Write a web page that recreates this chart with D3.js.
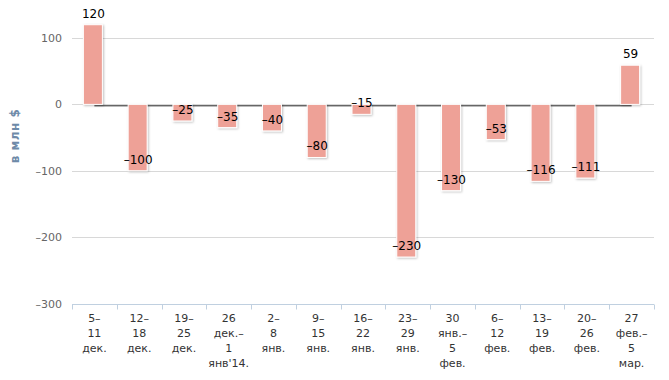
<!DOCTYPE html>
<html><head><meta charset="utf-8">
<script src="https://cdn.jsdelivr.net/npm/d3@7"></script>
<style>body{margin:0;background:#fff}svg{display:block}</style>
</head><body>
<svg id="c" width="669" height="380"></svg>
<script>
const categories = [
  ["5–","11","дек."],
  ["12–","18","дек."],
  ["19–","25","дек."],
  ["26","дек.–","1","янв'14."],
  ["2–","8","янв."],
  ["9–","15","янв."],
  ["16–","22","янв."],
  ["23–","29","янв."],
  ["30","янв.–","5","фев."],
  ["6–","12","фев."],
  ["13–","19","фев."],
  ["20–","26","фев."],
  ["27","фев.–","5","мар."]
];
const values = [120, -100, -25, -35, -40, -80, -15, -230, -130, -53, -116, -111, 59];
const yTicks = [-300, -200, -100, 0, 100];
const yTitle = "в млн $";

(function(){
const svg = d3.select("#c");
const pL = 72, pR = 654, pT = 38, pB = 303.5;
const x = d3.scaleBand().domain(d3.range(categories.length)).range([pL, pR]);
const y = d3.scaleLinear().domain([-300, 100]).range([pB, pT]);
const fmt = d => String(d).replace("-","–");

const defs = svg.append("defs");
const f = defs.append("filter").attr("id","sh").attr("x","-30%").attr("y","-30%").attr("width","160%").attr("height","160%");
f.append("feDropShadow").attr("dx",1).attr("dy",1).attr("stdDeviation",1).attr("flood-color","#000").attr("flood-opacity",0.25);

// gridlines
svg.append("g").selectAll("line").data(yTicks.filter(d=>d!==-300)).join("line")
  .attr("x1", pL).attr("x2", pR).attr("y1", d=>Math.round(y(d))+0.5).attr("y2", d=>Math.round(y(d))+0.5)
  .attr("stroke","#d8d8d8").attr("stroke-width",1);

// y tick labels
svg.append("g").selectAll("text").data(yTicks).join("text")
  .attr("x", 62).attr("y", d=>y(d)+4).attr("text-anchor","end")
  .attr("font-family","DejaVu Sans, Verdana, sans-serif").attr("font-size",11).attr("fill","#666")
  .text(fmt);

// y title
svg.append("text").attr("transform","translate(19,136) rotate(-90)").attr("text-anchor","middle")
  .attr("font-family","DejaVu Sans, Verdana, sans-serif").attr("font-size",12).attr("font-weight","bold").attr("fill","#6e8aa8")
  .attr("letter-spacing",0.5)
  .text(yTitle);

// x axis line
const ay = Math.round(y(-300))+0.5;
svg.append("line").attr("x1",pL).attr("x2",pR).attr("y1",ay).attr("y2",ay).attr("stroke","#c0d0e0").attr("stroke-width",1);
const bounds = d3.range(categories.length+1).map(i=> pL + i*x.step());
svg.append("g").selectAll("line").data(bounds).join("line")
  .attr("x1",d=>Math.round(d)+0.5).attr("x2",d=>Math.round(d)+0.5).attr("y1",ay).attr("y2",ay+5)
  .attr("stroke","#c0d0e0");

// x labels
const xl = svg.append("g").selectAll("text").data(categories).join("text")
  .attr("text-anchor","middle").attr("font-family","DejaVu Sans, Verdana, sans-serif").attr("font-size",11).attr("fill","#333");
xl.each(function(lines,i){
  const t = d3.select(this);
  lines.forEach((l,k)=>{
    t.append("tspan").attr("x", x(i)+x.bandwidth()/2).attr("y", ay+17+k*15).text(l);
  });
});

// zero line (series)
const cx = i => x(i)+x.bandwidth()/2;
const zy = Math.round(y(0))+1.5;
svg.append("line").attr("x1",cx(0)).attr("x2",cx(categories.length-1))
  .attr("y1",zy+1).attr("y2",zy+1).attr("stroke","#bbb").attr("stroke-width",1);
svg.append("line").attr("x1",cx(0)).attr("x2",cx(categories.length-1))
  .attr("y1",zy).attr("y2",zy).attr("stroke","#666").attr("stroke-width",1);

// bars
const bw = 19;
svg.append("g").selectAll("rect").data(values).join("rect")
  .attr("x",(d,i)=>cx(i)-bw/2-1.5).attr("width",bw)
  .attr("y",d=>y(Math.max(0,d))).attr("height",d=>Math.abs(y(d)-y(0)))
  .attr("fill","#eea197").attr("stroke","#fff").attr("stroke-width",1).attr("filter","url(#sh)");

// value labels
svg.append("g").selectAll("text").data(values).join("text")
  .attr("x",(d,i)=>cx(i)-1).attr("y",d=> y(d)-7)
  .attr("text-anchor","middle").attr("font-family","DejaVu Sans, Verdana, sans-serif").attr("font-size",12).attr("fill","#000")
  .text(fmt);
})();
</script>
</body></html>
